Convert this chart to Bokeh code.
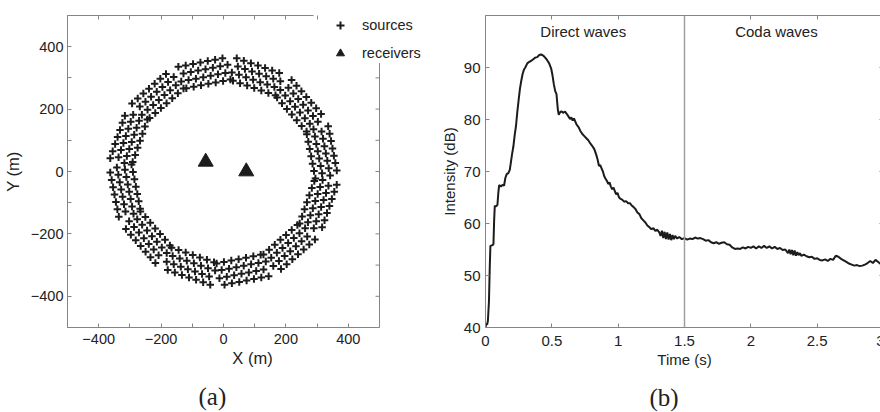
import numpy as np
from bokeh.plotting import figure
from bokeh.models import (Range1d, FixedTicker, LinearAxis, Legend, LegendItem,
                          Label, Span, Title, CustomJSTickFormatter)
from bokeh.layouts import row
from bokeh.embed import file_html
from bokeh.resources import INLINE

# ---------------- data: panel (a) ----------------
segment_angle_deg = [11, 41, 71, 101, 131, 161, 191, 221, 251, 281, 311, 341]
row_offset_m = [285, 309, 333, 357]
row_stagger_m = [-6, 6, -6, 6]
column_offset_m = [-72, -48, -24, 0, 24, 48, 72]
receiver_x = [-57, 73]
receiver_y = [31, 0]
xy_major_ticks = [-400, -200, 0, 200, 400]
xy_minor_ticks = [-500, -300, -100, 100, 300, 500]

# ---------------- data: panel (b) ----------------
time_s = [0.000, 0.006, 0.012, 0.018, 0.026, 0.032, 0.037, 0.048, 0.060, 0.065, 0.070, 0.080,
          0.090, 0.097, 0.103, 0.115, 0.128, 0.140, 0.150, 0.160, 0.172, 0.183, 0.190, 0.200,
          0.210, 0.220, 0.230, 0.240, 0.250, 0.260, 0.270, 0.280, 0.290, 0.300, 0.315, 0.330,
          0.345, 0.360, 0.375, 0.390, 0.405, 0.420, 0.435, 0.450, 0.465, 0.480, 0.495, 0.505,
          0.515, 0.525, 0.535, 0.545, 0.552, 0.562, 0.572, 0.585, 0.600, 0.612, 0.625, 0.637,
          0.647, 0.657, 0.667, 0.677, 0.687, 0.700, 0.715, 0.730, 0.745, 0.760, 0.775, 0.790,
          0.805, 0.820, 0.835, 0.845, 0.855, 0.865, 0.875, 0.885, 0.895, 0.905, 0.915, 0.925,
          0.935, 0.945, 0.955, 0.965, 0.975, 0.985, 0.995, 1.005, 1.015, 1.030, 1.045, 1.060,
          1.075, 1.090, 1.100, 1.115, 1.130, 1.145, 1.160, 1.175, 1.190, 1.205, 1.220, 1.235,
          1.250, 1.265, 1.280, 1.295, 1.310, 1.320, 1.330, 1.340, 1.350, 1.360, 1.370, 1.380,
          1.390, 1.400, 1.410, 1.420, 1.430, 1.445, 1.460, 1.480, 1.500, 1.520, 1.540, 1.560,
          1.580, 1.600, 1.620, 1.640, 1.660, 1.680, 1.700, 1.720, 1.740, 1.760, 1.780, 1.800,
          1.820, 1.840, 1.860, 1.880, 1.900, 1.920, 1.940, 1.960, 1.980, 2.000, 2.020, 2.040,
          2.060, 2.080, 2.100, 2.120, 2.140, 2.160, 2.180, 2.200, 2.220, 2.240, 2.260, 2.280,
          2.290, 2.300, 2.310, 2.320, 2.330, 2.340, 2.350, 2.360, 2.370, 2.380, 2.400, 2.420,
          2.440, 2.460, 2.480, 2.500, 2.520, 2.540, 2.560, 2.580, 2.600, 2.620, 2.640, 2.660,
          2.680, 2.700, 2.720, 2.740, 2.760, 2.780, 2.800, 2.820, 2.840, 2.860, 2.880, 2.900,
          2.920, 2.940, 2.960, 2.980, 3.000]
intensity_db = [40.0, 40.8, 40.5, 41.3, 45.0, 51.5, 55.7, 55.8, 56.0, 60.5, 63.4, 63.3,
                63.6, 66.0, 67.4, 67.1, 67.4, 67.3, 68.8, 69.5, 69.7, 70.3, 71.5, 73.3,
                74.8, 77.0, 78.8, 81.5, 83.8, 86.0, 87.5, 88.8, 89.6, 90.0, 90.8, 91.1,
                91.3, 91.6, 91.9, 92.0, 92.4, 92.5, 92.3, 91.9, 91.4, 90.8, 89.8, 88.5,
                86.8, 85.5, 84.9, 82.0, 80.9, 81.4, 81.6, 81.3, 81.5, 81.1, 80.6, 80.1,
                80.4, 79.8, 80.2, 79.6, 79.0, 78.6, 77.8, 77.2, 76.8, 76.4, 76.0, 75.4,
                74.9, 74.3, 73.2, 72.3, 71.1, 71.2, 70.6, 70.0, 69.1, 68.6, 68.2, 67.6,
                67.9, 67.1, 66.6, 66.9, 66.2, 65.6, 65.9, 65.1, 64.8, 64.6, 64.2, 64.3,
                63.9, 63.9, 63.5, 63.2, 62.8, 62.1, 61.8, 61.0, 60.6, 60.2, 59.6, 59.3,
                58.9, 59.1, 58.6, 58.8, 58.3, 57.6, 58.6, 57.2, 58.4, 57.0, 58.3, 56.9,
                58.0, 56.8, 57.8, 57.0, 57.6, 57.1, 57.4, 57.0, 57.2, 56.9, 57.1, 57.0,
                57.3, 57.1, 57.2, 57.0, 56.7, 56.8, 56.4, 56.2, 56.4, 56.1, 56.3, 56.4,
                56.0, 55.9, 55.4, 55.1, 55.2, 55.1, 55.4, 55.2, 55.5, 55.3, 55.6, 55.2,
                55.6, 55.3, 55.7, 55.3, 55.6, 55.2, 55.5, 55.1, 55.3, 54.9, 55.0, 54.3,
                55.0, 54.1, 54.9, 53.9, 54.8, 53.8, 54.5, 53.9, 54.3, 53.8, 54.0, 53.7,
                53.5, 53.6, 53.2, 53.3, 53.0, 52.9, 53.1, 52.8, 53.2, 53.0, 53.8, 53.6,
                53.2, 52.9, 52.6, 52.3, 52.1, 51.9, 52.0, 51.8, 51.9, 52.1, 52.4, 52.8,
                52.4, 53.0, 52.6, 52.2, 52.4]
wave_boundary_s = 1.5
time_ticks = [0, 0.5, 1, 1.5, 2, 2.5, 3]
db_ticks = [40, 50, 60, 70, 80, 90]

FONT = "Liberation Sans"
INK = "#1c1c1c"
FRAME = "#858585"
TXT = "#222222"

fmt = CustomJSTickFormatter(code="return String(tick).replace('-', '\u2212');")
blank = CustomJSTickFormatter(code="return '';")


def style_axis(ax, ticker, labels=True, size="14.5px", standoff=5):
    ax.ticker = ticker
    ax.axis_line_color = FRAME
    ax.axis_line_width = 1
    ax.major_tick_line_color = FRAME
    ax.minor_tick_line_color = FRAME
    ax.major_tick_in = 4
    ax.major_tick_out = 0
    ax.minor_tick_in = 4
    ax.minor_tick_out = 0
    if labels:
        ax.formatter = fmt
        ax.major_label_text_font = FONT
        ax.major_label_text_font_size = size
        ax.major_label_text_color = TXT
        ax.major_label_standoff = standoff
    else:
        ax.formatter = blank
        ax.major_label_text_font_size = "0px"
        ax.major_label_standoff = 0


# ---------------- panel (a) ----------------
src_x, src_y = [], []
for a in segment_angle_deg:
    phi = np.deg2rad(a)
    nx, ny = np.cos(phi), np.sin(phi)
    tx, ty = -np.sin(phi), np.cos(phi)
    for r, st in zip(row_offset_m, row_stagger_m):
        for c in column_offset_m:
            s = c + st
            src_x.append(r * nx + s * tx)
            src_y.append(r * ny + s * ty)

BOX = 312          # px for 1000 m
FRAME_W1 = 370     # frame extends to the right of the box to host the legend
x_end = -500 + FRAME_W1 * 1000 / BOX

p1 = figure(frame_width=FRAME_W1, frame_height=BOX,
            x_range=Range1d(-500, x_end), y_range=Range1d(-500, 500),
            min_border_left=67, min_border_right=0, min_border_top=15, min_border_bottom=85,
            output_backend="svg", toolbar_location=None)
p1.outline_line_color = None
p1.grid.visible = False

tick_a = FixedTicker(ticks=xy_major_ticks, minor_ticks=xy_minor_ticks)
style_axis(p1.xaxis[0], tick_a, True, "14.5px", 6)
style_axis(p1.yaxis[0], tick_a, True, "14.5px", 4)
p1.xaxis[0].bounds = (-500, 500)
p1.xaxis[0].axis_label = "X (m)"
p1.xaxis[0].axis_label_standoff = 2
p1.yaxis[0].axis_label = "Y (m)"
p1.yaxis[0].axis_label_standoff = 6
for ax in (p1.xaxis[0], p1.yaxis[0]):
    ax.axis_label_text_font = FONT
    ax.axis_label_text_font_size = "16.5px"
    ax.axis_label_text_font_style = "normal"
    ax.axis_label_text_color = TXT

top1 = LinearAxis()
style_axis(top1, tick_a, False)
top1.bounds = (-500, 289)
p1.add_layout(top1, "above")

# right edge of the box with its inward ticks
p1.add_layout(Span(location=500, dimension="height", line_color=FRAME, line_width=1))
p1.scatter([500 - 2 * 1000 / BOX] * 9, sorted(xy_major_ticks + xy_minor_ticks[1:-1]),
           marker="dash", size=4, line_color=FRAME, line_width=1)

r_src = p1.scatter(src_x, src_y, marker="cross", size=7.5, line_width=2, color=INK)
r_rec = p1.scatter(receiver_x, receiver_y, marker="triangle", size=15, color=INK)

leg = Legend(items=[LegendItem(label="sources", renderers=[r_src]),
                    LegendItem(label="receivers", renderers=[r_rec])],
             location=(254, 264), orientation="vertical",
             glyph_width=38, glyph_height=20, label_height=20, spacing=8,
             padding=8, margin=0, label_standoff=3,
             border_line_color=None, background_fill_color="white", background_fill_alpha=1,
             label_text_font=FONT, label_text_font_size="14.5px", label_text_color=TXT)
p1.add_layout(leg)

p1.add_layout(Title(text="(a)", align="left", offset=131, standoff=23,
                    text_font="Liberation Serif", text_font_size="25px",
                    text_font_style="normal", text_color=TXT), "below")

# ---------------- panel (b) ----------------
p2 = figure(frame_width=398, frame_height=BOX,
            x_range=Range1d(0, 3), y_range=Range1d(40, 100),
            min_border_left=44, min_border_right=1, min_border_top=15, min_border_bottom=85,
            output_backend="svg", toolbar_location=None)
p2.outline_line_color = None
p2.grid.visible = False

tick_t = FixedTicker(ticks=time_ticks, minor_ticks=[])
tick_db = FixedTicker(ticks=db_ticks, minor_ticks=[])
style_axis(p2.xaxis[0], tick_t, True, "15px", 8)
style_axis(p2.yaxis[0], tick_db, True, "15px", 5)
p2.xaxis[0].axis_label = "Time (s)"
p2.xaxis[0].axis_label_standoff = 2
p2.yaxis[0].axis_label = "Intensity (dB)"
p2.yaxis[0].axis_label_standoff = 3
for ax in (p2.xaxis[0], p2.yaxis[0]):
    ax.axis_label_text_font = FONT
    ax.axis_label_text_font_size = "15px"
    ax.axis_label_text_font_style = "normal"
    ax.axis_label_text_color = TXT

top2 = LinearAxis()
right2 = LinearAxis()
style_axis(top2, tick_t, False)
style_axis(right2, tick_db, False)
p2.add_layout(top2, "above")
p2.add_layout(right2, "right")

p2.add_layout(Span(location=wave_boundary_s, dimension="height",
                   line_color="#a0a0a0", line_width=1.5))
p2.line(time_s, intensity_db, line_color=INK, line_width=2)

p2.add_layout(Label(x=0.737, y=96.9, text="Direct waves", text_align="center",
                    text_baseline="middle", text_font=FONT, text_font_size="15px",
                    text_color=TXT))
p2.add_layout(Label(x=2.193, y=96.9, text="Coda waves", text_align="center",
                    text_baseline="middle", text_font=FONT, text_font_size="15px",
                    text_color=TXT))
p2.add_layout(Title(text="(b)", align="left", offset=164, standoff=22,
                    text_font="Liberation Serif", text_font_size="25px",
                    text_font_style="normal", text_color=TXT), "below")

layout = row(p1, p2)
open("out.html", "w").write(file_html(layout, INLINE))
